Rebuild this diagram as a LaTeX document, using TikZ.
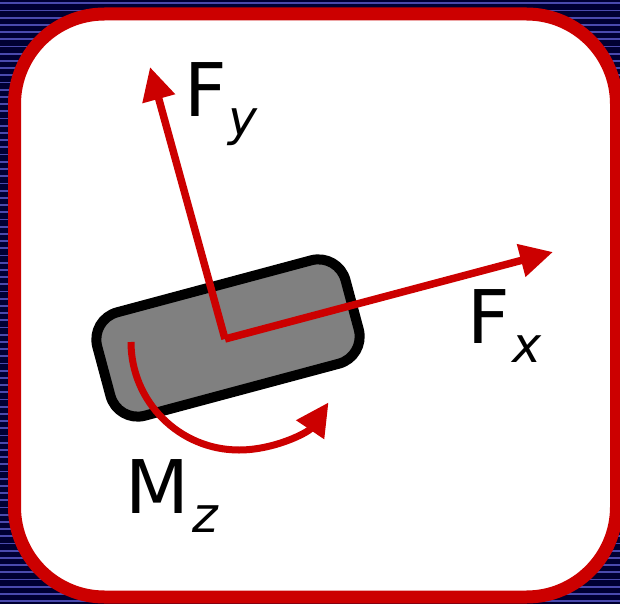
\documentclass[tikz,border=0pt]{standalone}
\usepackage{fontspec}
\setmainfont{DejaVu Sans}
\usetikzlibrary{arrows.meta}
\definecolor{navy}{HTML}{000033}
\definecolor{stripe}{HTML}{4A4AAE}
\definecolor{fred}{HTML}{CC0000}
\definecolor{tiregrey}{HTML}{808080}
\tikzset{
  force/.style={draw=fred, line width=7.5pt, -{Triangle[length=33pt,width=32pt]}},
  lbl/.style={anchor=base west, inner sep=0pt, outer sep=0pt, font=\fontsize{74}{74}\selectfont},
  tirebox/.style={draw=black, fill=tiregrey, line width=10pt, rounded corners=28pt,
    minimum width=257pt, minimum height=107pt, rotate=15, inner sep=0pt},
}
\newcommand{\subsc}[1]{\raisebox{-19pt}{\fontsize{49}{49}\selectfont\itshape #1}}
\begin{document}
\begin{tikzpicture}[x=1pt,y=-1pt]
\useasboundingbox (0,0) rectangle (620,604);
\clip (0,0) rectangle (620,604);
% background
\fill[navy] (0,0) rectangle (620,604);
\foreach \k in {0,...,84} {
  \draw[stripe, line width=1.8pt] (0,3.4+7.2*\k) -- (620,3.4+7.2*\k);
}
% frame
\draw[draw=fred, fill=white, line width=13pt, rounded corners=90pt] (14.5,14) rectangle (616.5,597);
% tire
\node[tirebox] (tire) at (228,338) {};
% forces
\coordinate (O) at (225,339);
\coordinate (Fytip) at (150,67);
\coordinate (Fxtip) at (553,252);
\draw[force] (O) -- (Fytip);
\draw[force] (O) -- (Fxtip);
\coordinate (Mstart) at (131,342);
\draw[force, line width=7pt] (Mstart) arc[start angle=180, end angle=326, radius=108pt];
% labels
\node[lbl] (Fy) at (184.7,117) {F\kern1pt\subsc{y}};
\node[lbl] (Fx) at (467.7,343) {F\kern2pt\subsc{x}};
\node[lbl] (Mz) at (125.7,513) {M\kern3pt\subsc{z}};
\end{tikzpicture}
\end{document}
